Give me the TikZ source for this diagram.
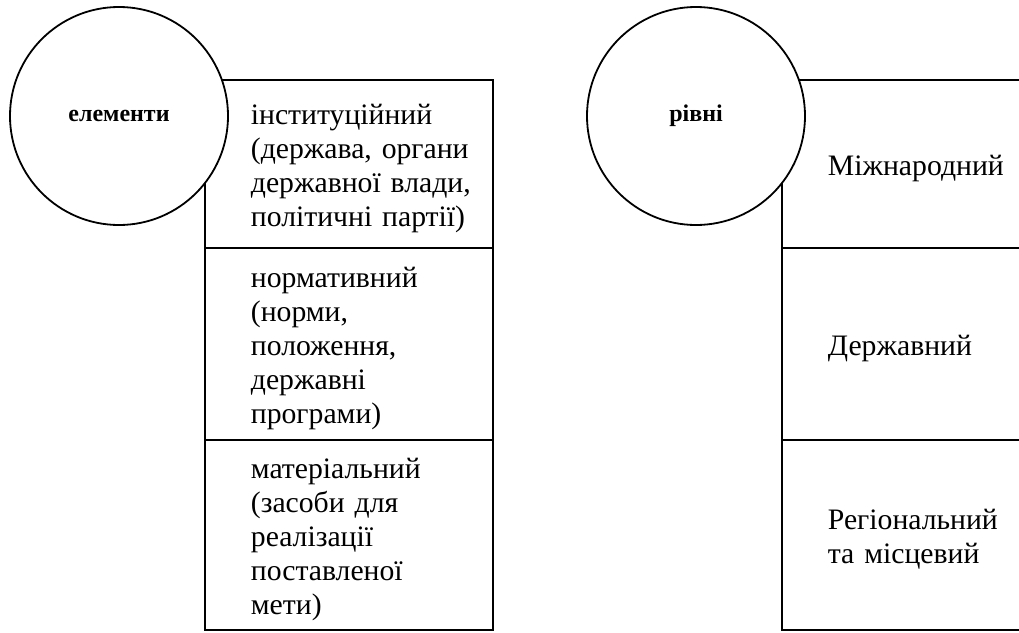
\documentclass[tikz,border=0pt]{standalone}
\usepackage{fontspec}
\setmainfont{LiberationSerif}[Extension=.ttf, UprightFont=*-Regular, BoldFont=*-Bold]
\usetikzlibrary{positioning}

\begin{document}
\begin{tikzpicture}[x=1pt, y=-1pt, line width=1.8pt,
  cell/.style={draw, minimum width=288pt, outer sep=0pt, inner sep=0pt},
  txt/.style={inner sep=0pt, text width=240pt, align=left, yshift=-4pt, font=\fontsize{29.7pt}{34pt}\selectfont},
  hub/.style={circle, draw, fill=white, minimum size=218pt, inner sep=0pt, font=\bfseries\fontsize{24pt}{28pt}\selectfont}]
  \useasboundingbox (0,0) rectangle (1019,632);
  \clip (0,0) rectangle (1019,632);

  % elements
  \node[cell, minimum height=168pt, anchor=north west] (inst) at (205,80) {};
  \node[cell, minimum height=192pt, below=0pt of inst] (norm) {};
  \node[cell, minimum height=190pt, below=0pt of norm] (mat) {};
  \node[txt, right=45pt of inst.west] (instT) {інституційний\\(держава, органи\\державної влади,\\політичні партії)};
  \node[txt, right=45pt of norm.west] (normT) {нормативний\\(норми,\\положення,\\державні\\програми)};
  \node[txt, right=45pt of mat.west] (matT) {матеріальний\\(засоби для\\реалізації\\поставленої\\мети)};
  \node[hub] (elem) at (119,116) {елементи};

  % levels
  \node[cell, minimum width=250pt, minimum height=168pt, anchor=north west] (intl) at (782,80) {};
  \node[cell, minimum width=250pt, minimum height=192pt, below=0pt of intl] (state) {};
  \node[cell, minimum width=250pt, minimum height=190pt, below=0pt of state] (local) {};
  \node[txt, right=45pt of intl.west] (intlT) {Міжнародний};
  \node[txt, right=45pt of state.west] (stateT) {Державний};
  \node[txt, right=45pt of local.west] (localT) {Регіональний\\та місцевий};
  \node[hub] (lvl) at (696,116) {рівні};
\end{tikzpicture}
\end{document}
